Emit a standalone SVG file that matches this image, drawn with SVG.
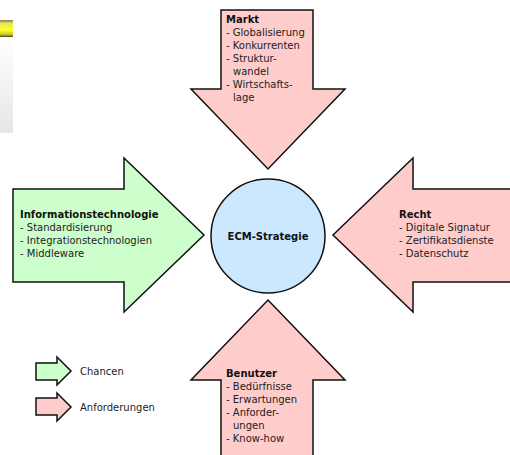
<svg xmlns="http://www.w3.org/2000/svg" width="510" height="455" viewBox="0 0 510 455">
<style>
.arrow{stroke:#111;stroke-width:1.5;stroke-linejoin:miter}
.pink{fill:#FFCCCC}
.green{fill:#CCFFCC}
text{font-family:"DejaVu Sans","Liberation Sans",sans-serif;font-size:10px;fill:#222}
.b{font-weight:bold;fill:#111}
</style>
<defs>
<linearGradient id="gray" x1="0" y1="0" x2="0" y2="1">
<stop offset="0" stop-color="#ffffff"/>
<stop offset="1" stop-color="#e6e6e6"/>
</linearGradient>
<linearGradient id="yel" x1="0" y1="0" x2="0" y2="1">
<stop offset="0" stop-color="#777766"/>
<stop offset="0.2" stop-color="#e8e84a"/>
<stop offset="0.6" stop-color="#ffff33"/>
<stop offset="0.85" stop-color="#c8c820"/>
<stop offset="1" stop-color="#444433"/>
</linearGradient>
</defs>
<rect width="510" height="455" fill="#ffffff"/>
<g id="artifact">
<rect x="0" y="37" width="13" height="96" fill="url(#gray)"/>
<rect x="0" y="20" width="13" height="17" fill="url(#yel)"/>
</g>
<g id="connectors">
<g id="markt">
<polygon class="arrow pink" points="221,10 313,10 313,89 345,89 268,169 191,89 221,89"/>
<text x="226" y="23" class="b">Markt</text>
<text x="226" y="36">- Globalisierung</text>
<text x="226" y="49">- Konkurrenten</text>
<text x="226" y="62">- Struktur-</text>
<text x="233" y="75">wandel</text>
<text x="226" y="88">- Wirtschafts-</text>
<text x="233" y="101">lage</text>
</g>
<g id="it">
<polygon class="arrow green" points="13,189 124,189 124,158 204,235 124,312 124,282 13,282"/>
<text x="20" y="218" class="b">Informationstechnologie</text>
<text x="20" y="231">- Standardisierung</text>
<text x="20" y="244">- Integrationstechnologien</text>
<text x="20" y="257">- Middleware</text>
</g>
<g id="recht">
<polygon class="arrow pink" points="333,235 413,158 413,189 515,189 515,282 413,282 413,312"/>
<text x="399" y="218" class="b">Recht</text>
<text x="399" y="231">- Digitale Signatur</text>
<text x="399" y="244">- Zertifikatsdienste</text>
<text x="399" y="257">- Datenschutz</text>
</g>
<g id="benutzer">
<polygon class="arrow pink" points="268,300 345,380 313,380 313,460 221,460 221,380 191,380"/>
<text x="226" y="377" class="b">Benutzer</text>
<text x="226" y="390">- Bedürfnisse</text>
<text x="226" y="403">- Erwartungen</text>
<text x="226" y="416">- Anforder-</text>
<text x="233" y="429">ungen</text>
<text x="226" y="442">- Know-how</text>
</g>
</g>
<g id="ecm">
<circle cx="268" cy="236" r="57" fill="#CCE8FF" stroke="#111" stroke-width="1.5"/>
<text x="268" y="240" class="b" text-anchor="middle">ECM-Strategie</text>
</g>
<g id="legend-chancen">
<polygon class="arrow green" points="36,363 57,363 57,357 71,371 57,385 57,380 36,380"/>
<text x="80" y="375">Chancen</text>
</g>
<g id="legend-anforderungen">
<polygon class="arrow pink" points="36,398 57,398 57,393 71,407 57,421 57,415 36,415"/>
<text x="80" y="411">Anforderungen</text>
</g>
</svg>
